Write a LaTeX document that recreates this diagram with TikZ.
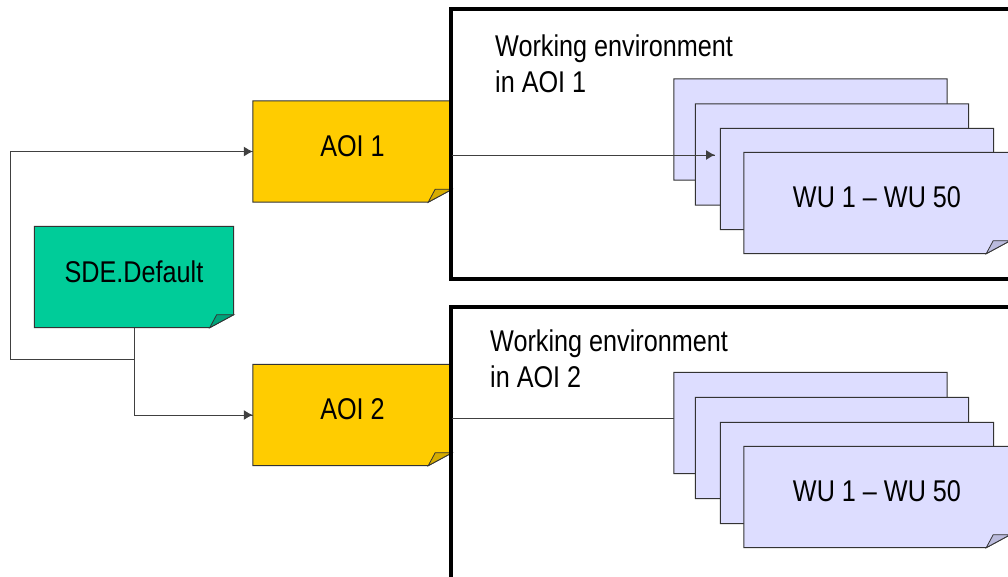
\documentclass[tikz,border=0pt]{standalone}
\usepackage{fontspec}
\setmainfont{Liberation Sans}[FakeStretch=0.84]
\usetikzlibrary{calc,backgrounds,arrows.meta,decorations.markings}
\tikzset{->/.style = {decoration={markings, mark=at position 1 with {\arrow{Latex[length=9pt,width=10pt]}}}, postaction={decorate}}}
\definecolor{aoifill}{HTML}{FFCC00}
\definecolor{aoiflap}{HTML}{D6AC00}
\definecolor{sdefill}{HTML}{00CC99}
\definecolor{sdeflap}{HTML}{00A37A}
\definecolor{wufill}{HTML}{DDDDFF}
\definecolor{wuflap}{HTML}{BBBBDD}
% folded corner outline behind a node
\newcommand\foldnote[3]{%
  \begin{pgfonlayer}{background}
    \filldraw[fill=#2, draw=black!80, line width=1pt] (#1.north west) -- (#1.north east)
      -- ([yshift=13pt]#1.south east) -- ([xshift=-24pt]#1.south east) -- (#1.south west) -- cycle;
    \filldraw[fill=#3, draw=black!80, line width=0.8pt] ([xshift=-24pt]#1.south east)
      -- ([xshift=-17pt,yshift=13pt]#1.south east) -- ([yshift=13pt]#1.south east) -- cycle;
  \end{pgfonlayer}}

\begin{document}
\begin{tikzpicture}[x=1pt, y=-1pt,
    note/.style={minimum width=199pt, minimum height=101pt, inner sep=0pt,
                 text depth=11pt, font=\fontsize{30}{36}\selectfont},
    wunote/.style={note, minimum width=273pt},
    envbox/.style={draw, line width=4pt, minimum width=579pt},
    envtext/.style={anchor=north west, inner sep=0pt, align=left,
                    font=\fontsize{30}{36}\selectfont},
    link/.style={draw=black!75, line width=1pt}]
  \useasboundingbox (0,0) rectangle (1008,576);
  \clip (0,0) rectangle (1008,576);

  % source and areas of interest
  \node[note] (sde) at (134,277) {SDE.Default};
  \foldnote{sde}{sdefill}{sdeflap}
  \node[note] (aoi1) at (352.5,151.5) {AOI 1};
  \foldnote{aoi1}{aoifill}{aoiflap}
  \node[note] (aoi2) at (352.5,415) {AOI 2};
  \foldnote{aoi2}{aoifill}{aoiflap}

  % work unit stacks
  \node[wunote] (wu1a) at (810.5,129.5) {};
  \foldnote{wu1a}{wufill}{wuflap}
  \node[wunote] (wu1b) at (832,154.5) {};
  \foldnote{wu1b}{wufill}{wuflap}
  \node[wunote] (wu1c) at (857,179) {};
  \foldnote{wu1c}{wufill}{wuflap}
  \node[wunote, minimum width=266pt] (wu1d) at (877,203) {WU 1 -- WU 50};
  \foldnote{wu1d}{wufill}{wuflap}

  \node[wunote] (wu2a) at (810.5,423) {};
  \foldnote{wu2a}{wufill}{wuflap}
  \node[wunote] (wu2b) at (832,448) {};
  \foldnote{wu2b}{wufill}{wuflap}
  \node[wunote] (wu2c) at (857,473) {};
  \foldnote{wu2c}{wufill}{wuflap}
  \node[wunote, minimum width=266pt] (wu2d) at (877,497) {WU 1 -- WU 50};
  \foldnote{wu2d}{wufill}{wuflap}

  % working environments
  \node[envbox, minimum height=270pt] (env1) at (740.5,144) {};
  \node[envbox, minimum height=313pt] (env2) at (740.5,463.5) {};
  \node[envtext] (env1txt) at (495,35) {Working environment\\in AOI 1};
  \node[envtext] (env2txt) at (490,330) {Working environment\\in AOI 2};

  % connectors
  \coordinate (turn) at (10,359);
  \coordinate (wu1in) at (715,155);
  \draw[link, ->] (sde.south) |- (turn) |- (aoi1.west);
  \draw[link, ->] (sde.south) |- (aoi2.west);
  \draw[link, ->] ([yshift=-3.5pt]aoi1.east) -- (wu1in);
  \draw[link] ([yshift=-3pt]aoi2.east) -- ([yshift=-3pt]aoi2.east -| wu2a.west);
\end{tikzpicture}
\end{document}
